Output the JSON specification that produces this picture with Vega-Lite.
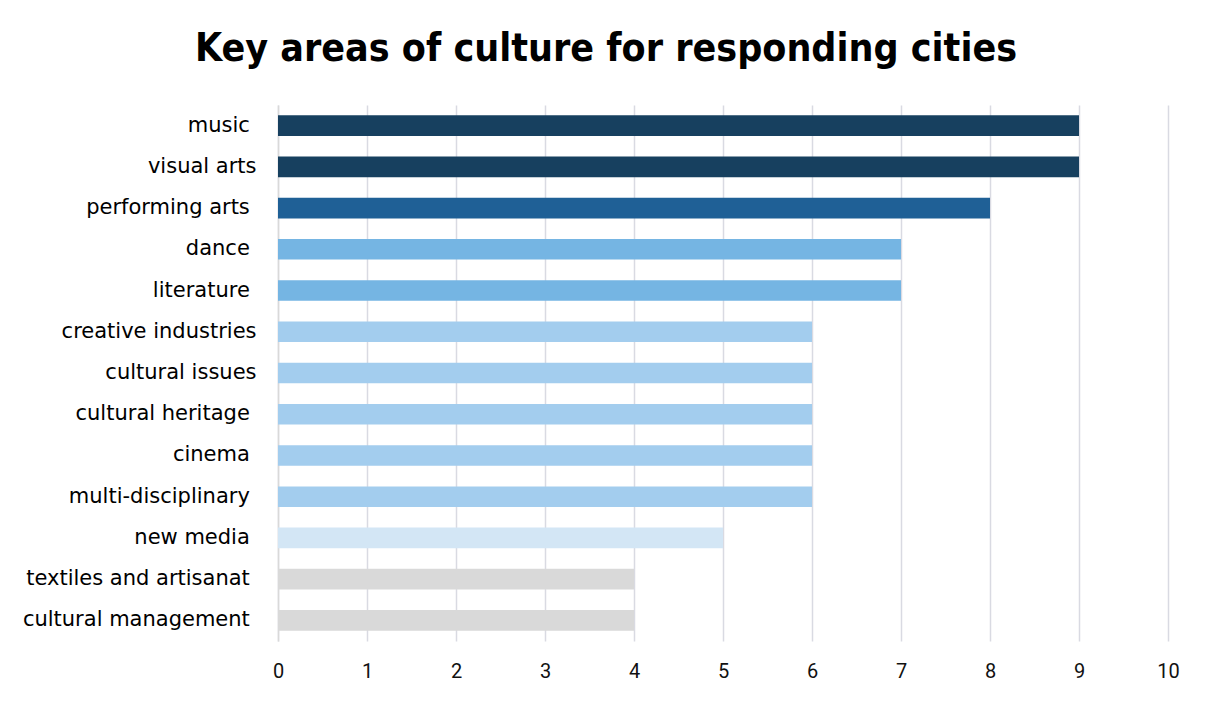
{
  "$schema": "https://vega.github.io/schema/vega-lite/v6.json",
  "autosize": {"type": "none"},
  "width": 890,
  "height": 536,
  "padding": {"left": 278, "top": 105, "right": 44, "bottom": 61},
  "background": "white",
  "title": {
    "text": "Key areas of culture for responding cities",
    "anchor": "middle",
    "frame": "group",
    "dx": -117,
    "offset": 36,
    "font": "DejaVu Sans Condensed",
    "fontSize": 39,
    "fontWeight": "bold",
    "color": "#000000"
  },
  "config": {"view": {"stroke": null}},
  "data": {
    "values": [
      {"area": "music\u00a0\u200b", "cities": 9},
      {"area": "visual arts", "cities": 9},
      {"area": "performing arts\u00a0\u200b", "cities": 8},
      {"area": "dance\u00a0\u200b", "cities": 7},
      {"area": "literature\u00a0\u200b", "cities": 7},
      {"area": "creative industries", "cities": 6},
      {"area": "cultural issues", "cities": 6},
      {"area": "cultural heritage\u00a0\u200b", "cities": 6},
      {"area": "cinema\u00a0\u200b", "cities": 6},
      {"area": "multi-disciplinary\u00a0\u200b", "cities": 6},
      {"area": "new media\u00a0\u200b", "cities": 5},
      {"area": "textiles and artisanat\u00a0\u200b", "cities": 4},
      {"area": "cultural management\u00a0\u200b", "cities": 4}
    ]
  },
  "mark": {"type": "bar"},
  "encoding": {
    "y": {
      "field": "area",
      "type": "nominal",
      "sort": null,
      "scale": {"paddingInner": 0.5, "paddingOuter": 0.25},
      "axis": {
        "title": null,
        "ticks": false,
        "labelPadding": 22,
        "labelFont": "DejaVu Sans",
        "labelFontSize": 21,
        "labelColor": "#000000",
        "domainColor": "#D9D9D9",
        "domainWidth": 1.5,
        "labelLimit": 400
      }
    },
    "x": {
      "field": "cities",
      "type": "quantitative",
      "scale": {"domain": [0, 10], "nice": false},
      "axis": {
        "title": null,
        "values": [0, 1, 2, 3, 4, 5, 6, 7, 8, 9, 10],
        "ticks": false,
        "domain": false,
        "grid": true,
        "gridColor": "#D9DAE2",
        "gridWidth": 1.5,
        "labelPadding": 20,
        "labelFont": "Roboto",
        "labelFontSize": 20,
        "labelColor": "#111111",
        "labelFlush": false
      }
    },
    "color": {
      "field": "cities",
      "type": "ordinal",
      "legend": null,
      "scale": {
        "domain": [9, 8, 7, 6, 5, 4],
        "range": ["#17405F", "#1F6096", "#75B5E3", "#A3CDEE", "#D3E6F5", "#D9D9D9"]
      }
    }
  }
}
